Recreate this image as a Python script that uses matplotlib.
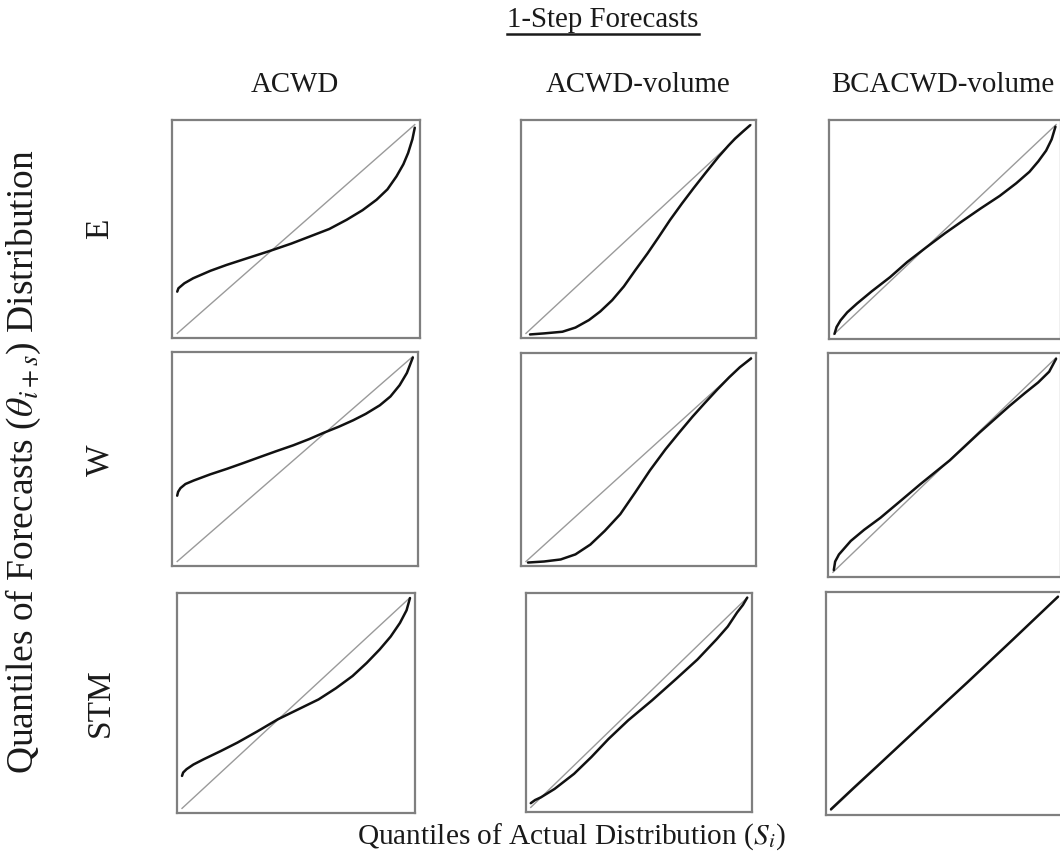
import matplotlib
matplotlib.use("Agg")
import matplotlib.pyplot as plt
from matplotlib.lines import Line2D
from matplotlib.transforms import IdentityTransform

plt.rcParams['font.family'] = ['Liberation Serif', 'DejaVu Serif']
plt.rcParams['mathtext.fontset'] = 'stix'

# ---- data (quantile pairs, normalised 0..1) ----
col_names = ['ACWD', 'ACWD-volume', 'BCACWD-volume']
row_names = ['E', 'W', 'STM']

ref_line = [0.0, 1.0]

e_acwd_x = [0.0, 0.005, 0.03, 0.067, 0.14, 0.208, 0.30, 0.39, 0.48, 0.558, 0.64, 0.713, 0.78, 0.839, 0.885, 0.923, 0.952, 0.972, 0.99, 1.0]
e_acwd_y = [0.20, 0.216, 0.24, 0.264, 0.30, 0.328, 0.362, 0.395, 0.43, 0.464, 0.50, 0.544, 0.59, 0.64, 0.69, 0.752, 0.81, 0.864, 0.93, 0.985]

e_vol_x = [0.018, 0.08, 0.162, 0.22, 0.28, 0.33, 0.383, 0.435, 0.486, 0.54, 0.59, 0.64, 0.693, 0.745, 0.796, 0.855, 0.9, 0.929, 0.965, 0.996]
e_vol_y = [-0.005, 0.0, 0.008, 0.028, 0.064, 0.105, 0.159, 0.225, 0.303, 0.383, 0.462, 0.543, 0.622, 0.696, 0.766, 0.845, 0.9, 0.933, 0.968, 0.997]

e_bc_x = [0.003, 0.012, 0.03, 0.06, 0.104, 0.17, 0.253, 0.33, 0.417, 0.5, 0.582, 0.66, 0.746, 0.82, 0.88, 0.92, 0.955, 0.98, 0.997]
e_bc_y = [0.003, 0.035, 0.067, 0.105, 0.147, 0.205, 0.273, 0.345, 0.416, 0.482, 0.543, 0.6, 0.66, 0.72, 0.775, 0.825, 0.876, 0.93, 0.99]

w_acwd_x = [0.0, 0.004, 0.014, 0.035, 0.07, 0.14, 0.211, 0.28, 0.352, 0.42, 0.493, 0.56, 0.62, 0.685, 0.747, 0.80, 0.86, 0.905, 0.944, 0.975, 1.0]
w_acwd_y = [0.321, 0.34, 0.358, 0.378, 0.395, 0.425, 0.452, 0.48, 0.51, 0.538, 0.567, 0.597, 0.627, 0.657, 0.689, 0.72, 0.762, 0.805, 0.86, 0.92, 0.995]

w_vol_x = [0.009, 0.08, 0.154, 0.22, 0.286, 0.35, 0.419, 0.485, 0.551, 0.62, 0.683, 0.74, 0.793, 0.85, 0.903, 0.95, 1.0]
w_vol_y = [-0.005, 0.0, 0.01, 0.035, 0.083, 0.15, 0.232, 0.338, 0.447, 0.55, 0.635, 0.71, 0.775, 0.843, 0.903, 0.952, 0.995]

w_bc_x = [0.004, 0.01, 0.027, 0.08, 0.14, 0.213, 0.30, 0.391, 0.524, 0.658, 0.791, 0.86, 0.92, 0.969, 1.0]
w_bc_y = [0.01, 0.05, 0.083, 0.146, 0.198, 0.254, 0.33, 0.41, 0.522, 0.652, 0.775, 0.835, 0.885, 0.935, 0.995]

stm_acwd_x = [0.0, 0.005, 0.02, 0.05, 0.095, 0.17, 0.243, 0.33, 0.421, 0.51, 0.599, 0.675, 0.748, 0.81, 0.867, 0.915, 0.956, 0.985, 1.0]
stm_acwd_y = [0.154, 0.17, 0.186, 0.208, 0.233, 0.272, 0.312, 0.365, 0.423, 0.47, 0.517, 0.57, 0.628, 0.69, 0.754, 0.815, 0.88, 0.94, 0.998]

stm_vol_x = [0.0, 0.02, 0.047, 0.11, 0.2, 0.28, 0.359, 0.45, 0.56, 0.671, 0.77, 0.859, 0.91, 0.953, 0.98, 1.0]
stm_vol_y = [0.02, 0.035, 0.048, 0.088, 0.16, 0.24, 0.326, 0.415, 0.51, 0.612, 0.705, 0.802, 0.862, 0.929, 0.965, 1.0]

stm_bc_x = [0.0, 0.1, 0.2, 0.3, 0.4, 0.5, 0.6, 0.7, 0.8, 0.9, 1.0]
stm_bc_y = [0.005, 0.105, 0.203, 0.302, 0.401, 0.5, 0.598, 0.698, 0.798, 0.899, 1.0]

curves = [
    [(e_acwd_x, e_acwd_y), (e_vol_x, e_vol_y), (e_bc_x, e_bc_y)],
    [(w_acwd_x, w_acwd_y), (w_vol_x, w_vol_y), (w_bc_x, w_bc_y)],
    [(stm_acwd_x, stm_acwd_y), (stm_vol_x, stm_vol_y), (stm_bc_x, stm_bc_y)],
]

# ---- layout: panel boxes in pixels (left, top, right, bottom) ----
W, H = 1060, 856
boxes = [
    [(172, 120, 420, 338), (521, 120, 756, 338), (829, 120, 1061, 339)],
    [(172, 352, 418, 566), (521, 353, 756, 566), (828, 353, 1061, 577)],
    [(177, 593, 415, 813), (526, 593, 752, 812), (826, 592, 1063, 815)],
]

txt_color = '#1a1a1a'
fs = 20.8

fig = plt.figure(figsize=(W / 100, H / 100), dpi=100)

m = 0.022
for r in range(3):
    for c in range(3):
        l, t, rr, b = boxes[r][c]
        ax = fig.add_axes([l / W, 1 - b / H, (rr - l) / W, (b - t) / H])
        ax.plot(ref_line, ref_line, color='#9a9a9a', lw=1.0)
        xs, ys = curves[r][c]
        ax.plot(xs, ys, color='#111111', lw=1.8, solid_capstyle='round',
                solid_joinstyle='round')
        ax.set_xlim(-m, 1 + m)
        ax.set_ylim(-m, 1 + m)
        ax.set_xticks([])
        ax.set_yticks([])
        for sp in ax.spines.values():
            sp.set_color('#7f7f7f')
            sp.set_linewidth(1.6)

# column titles
col_x = [295, 638, 943]
for name, x in zip(col_names, col_x):
    fig.text(x / W, 1 - 85 / H, name, ha='center', va='center', fontsize=fs, color=txt_color)

# row labels
row_y = [229, 460, 703]
for name, y in zip(row_names, row_y):
    fig.text(100 / W, 1 - y / H, name, ha='center', va='center', rotation=90,
             fontsize=24, color=txt_color)

# overall title, underlined
title = fig.text(603 / W, 1 - 20 / H, '1-Step Forecasts', ha='center', va='center',
                 fontsize=fs, color=txt_color)

fig.text(23 / W, 1 - 462 / H, r'Quantiles of Forecasts ($\theta_{i+s}$) Distribution',
         ha='center', va='center', rotation=90, fontsize=27, color=txt_color)
fig.text(571 / W, 1 - 837 / H, r'Quantiles of Actual Distribution ($S_i$)',
         ha='center', va='center', fontsize=21.2, color=txt_color)

fig.canvas.draw()
bb = title.get_window_extent(fig.canvas.get_renderer())
fig.add_artist(Line2D([bb.x0, bb.x1], [bb.y0 - 1, bb.y0 - 1], transform=IdentityTransform(),
                      color=txt_color, lw=1.8))

fig.savefig('out.png', dpi=100)
plt.close(fig)
